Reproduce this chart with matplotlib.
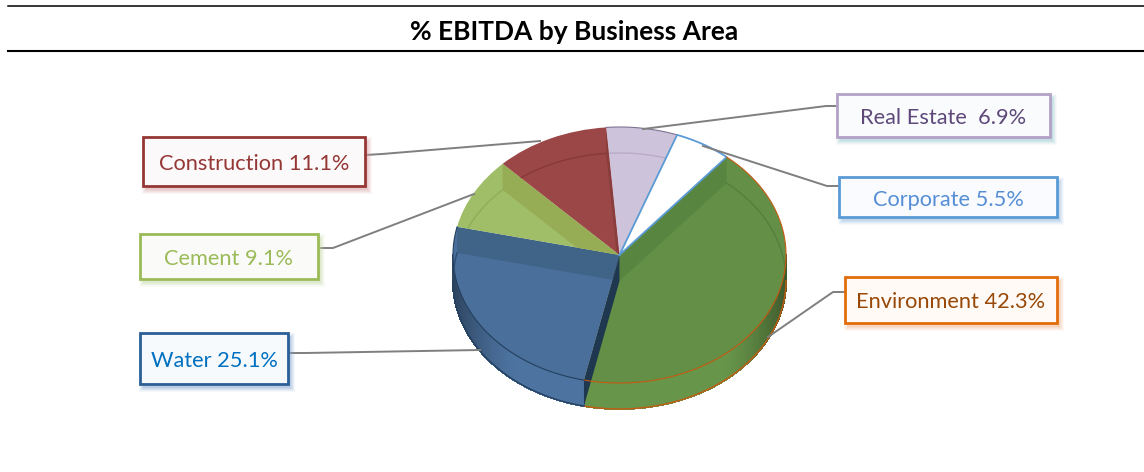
import numpy as np
import matplotlib
matplotlib.use("Agg")
import matplotlib.pyplot as plt
from matplotlib.patches import Polygon, Rectangle
from matplotlib.colors import to_rgb

# ---------- data ----------
categories = ["Real Estate", "Corporate", "Environment", "Water", "Cement", "Construction"]
values = [6.9, 5.5, 42.3, 25.1, 9.1, 11.1]
labels = ["Real Estate  6.9%", "Corporate 5.5%", "Environment 42.3%",
          "Water 25.1%", "Cement 9.1%", "Construction 11.1%"]
title = "% EBITDA by Business Area"

# ---------- style ----------
face = ["#cdc3da", "#ffffff", "#638f47", "#4a6f9b", "#a0bd68", "#9c4747"]
edge = ["#7f7391", "#5b9bd5", "#c55a11", "#24405f", "#a0bd68", "#8e3a3a"]
arc_col = ["#b9abc6", None, "#557f3e", "#2f4c6e", "#8fae58", "#873838"]
text_col = ["#5f497a", "#558ed5", "#984807", "#0070c0", "#9bbb59", "#953735"]
box_edge = ["#b3a2c7", "#5b9bd5", "#e36c0a", "#2c5f96", "#9bbb59", "#953735"]
box_fill = ["#f9fbfd", "#f9fbfe", "#fffaf6", "#f7fafd", "#fafbf8", "#fbf9f9"]
shadow = ["#8fc4cf", "#8fb5e0", "#f3b083", "#7f9fd0", "#c5d6a0", "#d49a9a"]
# left, top, right, bottom in pixels
boxes = [(837, 94, 1050, 137), (839, 177, 1057, 217), (845, 277, 1057, 323),
         (140, 333, 288, 384), (140, 234, 318, 279), (143, 137, 365, 186)]
leaders = [[(837, 106), (826, 106), (643, 129)],
           [(839, 186), (827, 186), (703, 146)],
           [(845, 292), (833, 292), (768, 337)],
           [(288, 353), (305, 353), (480, 350)],
           [(318, 248), (333, 248), (474, 194)],
           [(365, 155), (382, 154), (540, 141)]]

W, H = 1144, 472
CX, CY, RX, RY, DEPTH = 619.5, 255, 166.5, 128, 26
START = -4.6  # degrees clockwise from the top
d = DEPTH / RY

plt.rcParams["font.family"] = ["Lato", "DejaVu Sans"]
fig = plt.figure(figsize=(W / 100, H / 100), dpi=100, facecolor="white")

# ---------- pie axes: unit circle mapped to the tilted ellipse ----------
ax = fig.add_axes([(CX - 1.25 * RX) / W, 1 - (CY + 1.25 * RY) / H,
                   2.5 * RX / W, 2.5 * RY / H])
wedges, _ = ax.pie(values, colors=face, startangle=90 - START, counterclock=False,
                   radius=1, center=(0, 0))
ax.set_aspect("auto")
ax.set_xlim(-1.25, 1.25)
ax.set_ylim(-1.25, 1.25)
ax.axis("off")


def pt(a, dy=0.0):
    a = np.radians(a)
    return np.sin(a), np.cos(a) - dy


bounds = START + np.concatenate([[0], np.cumsum(values)]) * 3.6

# side wall
for i in range(len(values)):
    lo, hi = max(bounds[i], 90), min(bounds[i + 1], 270)
    if hi <= lo:
        continue
    aa = np.linspace(lo, hi, int(hi - lo) * 2 + 2)
    base = np.array(to_rgb(face[i]))
    for a0, a1 in zip(aa[:-1], aa[1:]):
        x = abs(np.sin(np.radians((a0 + a1) / 2)))
        s = 1.04 - 0.42 * max(0.0, (x - 0.62) / 0.38) ** 1.4
        c = np.clip(base * s, 0, 1)
        poly = Polygon([pt(a0), pt(a1), pt(a1, d), pt(a0, d)], closed=True,
                       facecolor=c, edgecolor=c, linewidth=0.8, antialiased=False, zorder=1)
        ax.add_patch(poly)
    # lower rim
    rim = np.array([pt(a, d) for a in aa])
    ax.plot(rim[:, 0], rim[:, 1], color=edge[i], lw=1.0, zorder=2)

# top faces
for w in wedges:
    w.set_zorder(3)
    w.set_linewidth(0)

# translucent inner walls seen through the top
band_col = {"Environment": "#588540", "Water": "#3f6488",
            "Cement": "#97ad55", "Construction": "#8a3d3d"}
bands = {"Environment": bounds[2], "Water": bounds[4],
         "Cement": bounds[5], "Construction": bounds[6]}
for name, ang in bands.items():
    i = categories.index(name)
    poly = Polygon([(0, 0), pt(ang), pt(ang, d), (0, -d)], closed=True,
                   facecolor=band_col[name], edgecolor="none", zorder=4)
    ax.add_patch(poly)
    poly.set_clip_path(wedges[i])

# far floor arc seen through the top
for i in range(len(values)):
    if arc_col[i] is None:
        continue
    aa = np.linspace(bounds[i], bounds[i + 1], 80)
    xy = np.array([pt(a, d) for a in aa])
    ln, = ax.plot(xy[:, 0], xy[:, 1], color=arc_col[i], lw=1.0, zorder=5)
    ln.set_clip_path(wedges[i])

# dark cut face between Environment and Water
ang = bounds[3]
ax.add_patch(Polygon([(0, 0), pt(ang), pt(ang, d), (0, -d)], closed=True,
                     facecolor="#1f3850", edgecolor="none", zorder=6))

# slice outlines
for i in range(len(values)):
    aa = np.linspace(bounds[i], bounds[i + 1], 120)
    xy = np.array([pt(a) for a in aa])
    if categories[i] == "Corporate":
        xy = np.vstack([[0, 0], xy, [0, 0]])
        ax.plot(xy[:, 0], xy[:, 1], color=edge[i], lw=1.3, zorder=7)
    elif categories[i] in ("Environment", "Water", "Real Estate"):
        ax.plot(xy[:, 0], xy[:, 1], color=edge[i], lw=0.8, zorder=7)

# ---------- overlay in pixel coordinates ----------
ov = fig.add_axes([0, 0, 1, 1], facecolor="none")
ov.set_xlim(0, W)
ov.set_ylim(H, 0)
ov.axis("off")

ov.plot([8, W], [6, 6], color="black", lw=1.1)
ov.plot([8, W], [51, 51], color="black", lw=1.5)
ov.text(574.5, 31.5, title, ha="center", va="center", fontsize=19,
        fontweight="bold", color="black")

for line in leaders:
    xs, ys = zip(*line)
    ov.plot(xs, ys, color="#7f7f7f", lw=1.4, zorder=8, solid_joinstyle="round")

for (l, t, r, b), lab, tc, be, bf, sc in zip(boxes, labels, text_col, box_edge, box_fill, shadow):
    for grow, alpha in zip([4, 3, 2, 1, 0], [0.07, 0.10, 0.13, 0.16, 0.2]):
        ov.add_patch(Rectangle((l + 3 - grow, t + 4 - grow), r - l + 2 * grow, b - t + 2 * grow,
                               facecolor=sc, edgecolor="none", alpha=alpha, zorder=9))
    ov.add_patch(Rectangle((l, t), r - l, b - t, facecolor=bf, edgecolor=be,
                           linewidth=2.0, zorder=10))
    ov.text((l + r) / 2, (t + b) / 2 + 2.5, lab, ha="center", va="center",
            fontsize=15.7, color=tc, zorder=11)

fig.savefig("out.png", dpi=100)
